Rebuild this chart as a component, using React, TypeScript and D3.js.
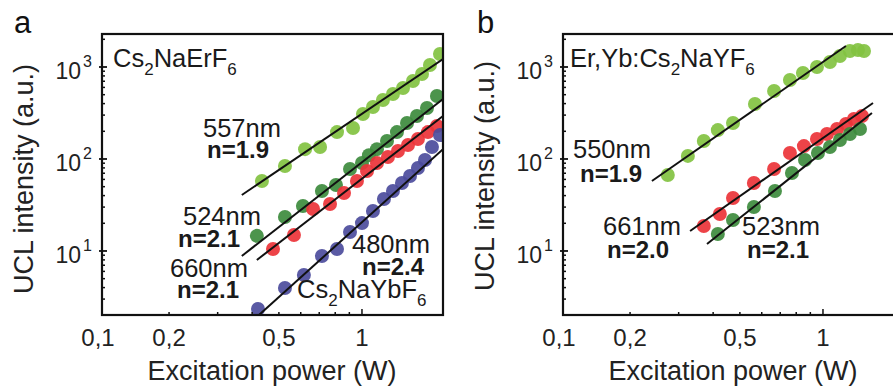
import React from 'react';
import * as d3 from 'd3';

// ---------- data (W, a.u.) ----------
const a557x = [0.434, 0.526, 0.622, 0.705, 0.812, 0.928, 1.008, 1.096, 1.191, 1.295, 1.408, 1.53, 1.65, 1.763, 1.917];
const a557y = [57.7, 84, 128, 135, 196, 217, 308, 367, 438, 509, 591, 705, 839, 1051, 1384];
const a524x = [0.416, 0.526, 0.611, 0.716, 0.805, 0.905, 1.0, 1.06, 1.133, 1.232, 1.339, 1.456, 1.582, 1.72, 1.869];
const a524y = [14.6, 23.4, 30.8, 44.9, 52.1, 77.8, 90.5, 110, 128, 157, 196, 246, 293, 358, 484];
const a660x = [0.476, 0.567, 0.665, 0.766, 0.861, 0.959, 1.043, 1.133, 1.242, 1.35, 1.468, 1.595, 1.734, 1.869];
const a660y = [10.5, 14.9, 28.6, 32.4, 42.7, 57.7, 74.1, 90.5, 105, 122, 142, 165, 196, 228];
const a480x = [0.42, 0.526, 0.616, 0.716, 0.812, 0.905, 1.0, 1.096, 1.201, 1.295, 1.396, 1.493, 1.595, 1.692, 1.793, 1.917];
const a480y = [2.34, 3.96, 5.49, 8.83, 10.5, 16.1, 20.1, 27.2, 36.7, 44.9, 54.8, 65.3, 79.8, 97.5, 135, 182];

const b550x = [0.274, 0.324, 0.37, 0.416, 0.472, 0.567, 0.665, 0.759, 0.846, 0.951, 1.06, 1.152, 1.252, 1.339, 1.408];
const b550y = [67, 108, 157, 206, 246, 396, 548, 723, 861, 1000, 1133, 1318, 1493, 1531, 1493];
const b661x = [0.37, 0.423, 0.472, 0.562, 0.665, 0.759, 0.853, 0.951, 1.034, 1.124, 1.211, 1.295, 1.385];
const b661y = [18.7, 25.2, 37.7, 54.8, 77.8, 116, 138, 165, 187, 212, 240, 272, 293];
const b523x = [0.416, 0.472, 0.562, 0.67, 0.772, 0.861, 0.959, 1.06, 1.152, 1.252, 1.362];
const b523y = [15.3, 21.7, 30.1, 44.9, 70.5, 97.5, 116, 135, 161, 187, 212];

// fit lines: [x0, y0, x1, y1]
const fitA557 = [0.367, 40.6, 1.966, 1222];
const fitA524 = [0.367, 8.83, 1.966, 449];
const fitA660 = [0.416, 7.98, 1.966, 293];
const fitA480 = [0.42, 1.97, 1.966, 128];
const fitB550 = [0.24, 57.7, 1.211, 1691];
const fitB661 = [0.33, 16.5, 1.518, 406];
const fitB523 = [0.38, 11.9, 1.505, 316];

const xTickVals = [0.2, 0.5, 1];
const xTickLabels = ['0,2', '0,5', '1'];
const xMinorVals = [0.2, 0.3, 0.4, 0.5, 0.6, 0.7, 0.8, 0.9, 1];
const yTickVals = [10, 100, 1000];
const yTickExp = ['1', '2', '3'];

const X_DOMAIN: [number, number] = [0.1143, 1.966];
const Y_DOMAIN: [number, number] = [2.014, 2284];

const C_LGREEN = '#82c241';
const C_DGREEN = '#3d8b3d';
const C_RED = '#ec3338';
const C_BLUE = '#4c4c9c';

const FONT = "'Liberation Sans', Arial, Helvetica, sans-serif";

type Series = { xs: number[]; ys: number[]; color: string };
type Fit = number[];

const W = 341;
const TOP = 34;
const BOTTOM = 315;

function Panel({ left, id, series, fits, letter, letterX, titleY }: {
  left: number; id: string; series: Series[]; fits: Fit[]; letter: string; letterX: number; titleY: number;
}) {
  const x = d3.scaleLog().domain(X_DOMAIN).range([left, left + W]);
  const y = d3.scaleLog().domain(Y_DOMAIN).range([BOTTOM, TOP]);
  const minorY: number[] = [];
  for (const dec of [1, 10, 100, 1000]) {
    for (let k = 2; k <= 9; k++) {
      const v = dec * k;
      if (v > Y_DOMAIN[0] && v < Y_DOMAIN[1]) minorY.push(v);
    }
  }
  const line = d3.line<[number, number]>().x(d => x(d[0])).y(d => y(d[1]));
  return (
    <g>
      <defs>
        <clipPath id={id}>
          <rect x={left} y={TOP} width={W} height={BOTTOM - TOP} />
        </clipPath>
      </defs>
      <g clipPath={`url(#${id})`}>
        {series.map((s, si) =>
          s.xs.map((xv, i) => (
            <circle key={`${si}-${i}`} cx={x(xv)} cy={y(s.ys[i])} r={7} fill={s.color} fillOpacity={0.92} />
          ))
        )}
        {fits.map((f, i) => (
          <path key={i} d={line([[f[0], f[1]], [f[2], f[3]]]) || ''} stroke="#111" strokeWidth={2} fill="none" />
        ))}
      </g>
      <rect x={left} y={TOP} width={W} height={BOTTOM - TOP} fill="none" stroke="#111" strokeWidth={2.2} />
      {minorY.map((v, i) => (
        <line key={i} x1={left} x2={left + 3} y1={y(v)} y2={y(v)} stroke="#111" strokeWidth={1.5} />
      ))}
      {yTickVals.map((v, i) => (
        <g key={i}>
          <line x1={left - 3} x2={left + 5} y1={y(v)} y2={y(v)} stroke="#111" strokeWidth={1.8} />
          <text x={left - 10} y={y(v) + 12} textAnchor="end" fontFamily={FONT} fontSize={23} fill="#222">
            10<tspan dy={-12} dx={2} fontSize={16}>{yTickExp[i]}</tspan>
          </text>
        </g>
      ))}
      {xMinorVals.map((v, i) => (
        <line key={i} x1={x(v)} x2={x(v)} y1={BOTTOM} y2={BOTTOM - (v === 1 ? 6 : 3)} stroke="#111" strokeWidth={1.5} />
      ))}
      <text x={x(X_DOMAIN[0]) - 4} y={346} textAnchor="middle" fontFamily={FONT} fontSize={24} fill="#222">0,1</text>
      {xTickVals.map((v, i) => (
        <text key={i} x={x(v)} y={346} textAnchor="middle" fontFamily={FONT} fontSize={24} fill="#222">{xTickLabels[i]}</text>
      ))}
      <text x={left + 170} y={380} textAnchor="middle" fontFamily={FONT} fontSize={27} fill="#222">Excitation power (W)</text>
      <text transform={`translate(${left - 69},${titleY}) rotate(-90)`} textAnchor="middle" fontFamily={FONT} fontSize={27} fill="#222">UCL intensity (a.u.)</text>
      <text x={letterX} y={33} fontFamily={FONT} fontSize={31} fill="#111">{letter}</text>
    </g>
  );
}

function Lbl({ x, y, children, bold }: { x: number; y: number; children: React.ReactNode; bold?: boolean }) {
  return (
    <text x={x} y={y} fontFamily={FONT} fontSize={bold ? 24 : 25.5} fontWeight={bold ? 'bold' : 'normal'} fill="#1a1a1a">{children}</text>
  );
}

function Sub({ children }: { children: React.ReactNode }) {
  return <tspan fontSize={17} dy={8}>{children}</tspan>;
}
function Up({ children }: { children: React.ReactNode }) {
  return <tspan dy={-8}>{children}</tspan>;
}

export default function App() {
  const seriesA: Series[] = [
    { xs: a557x, ys: a557y, color: C_LGREEN },
    { xs: a524x, ys: a524y, color: C_DGREEN },
    { xs: a660x, ys: a660y, color: C_RED },
    { xs: a480x, ys: a480y, color: C_BLUE },
  ];
  const seriesB: Series[] = [
    { xs: b550x, ys: b550y, color: C_LGREEN },
    { xs: b661x, ys: b661y, color: C_RED },
    { xs: b523x, ys: b523y, color: C_DGREEN },
  ];
  return (
    <svg width={893} height={386} viewBox="0 0 893 386"
      style={{ position: 'absolute', left: 0, top: 0, display: 'block', background: '#fff' }}>
      <rect x={0} y={0} width={893} height={386} fill="#fff" />
      <Panel left={102} id="clipA" series={seriesA} fits={[fitA557, fitA524, fitA660, fitA480]} letter="a" letterX={14} titleY={179} />
      <Panel left={563} id="clipB" series={seriesB} fits={[fitB550, fitB661, fitB523]} letter="b" letterX={477} titleY={176} />

      <Lbl x={113} y={67}>Cs<Sub>2</Sub><Up>NaErF</Up><Sub>6</Sub></Lbl>
      <Lbl x={203} y={137}>557nm</Lbl>
      <Lbl x={207} y={158} bold>n=1.9</Lbl>
      <Lbl x={183} y={225}>524nm</Lbl>
      <Lbl x={178} y={247} bold>n=2.1</Lbl>
      <Lbl x={170} y={277}>660nm</Lbl>
      <Lbl x={177} y={298} bold>n=2.1</Lbl>
      <Lbl x={352} y={253}>480nm</Lbl>
      <Lbl x={362} y={275} bold>n=2.4</Lbl>
      <Lbl x={297} y={298}>Cs<Sub>2</Sub><Up>NaYbF</Up><Sub>6</Sub></Lbl>

      <Lbl x={570} y={67}>Er,Yb:Cs<Sub>2</Sub><Up>NaYF</Up><Sub>6</Sub></Lbl>
      <Lbl x={573} y={158}>550nm</Lbl>
      <Lbl x={580} y={182} bold>n=1.9</Lbl>
      <Lbl x={603} y={235}>661nm</Lbl>
      <Lbl x={607} y={258} bold>n=2.0</Lbl>
      <Lbl x={742} y={235}>523nm</Lbl>
      <Lbl x={747} y={258} bold>n=2.1</Lbl>
    </svg>
  );
}
